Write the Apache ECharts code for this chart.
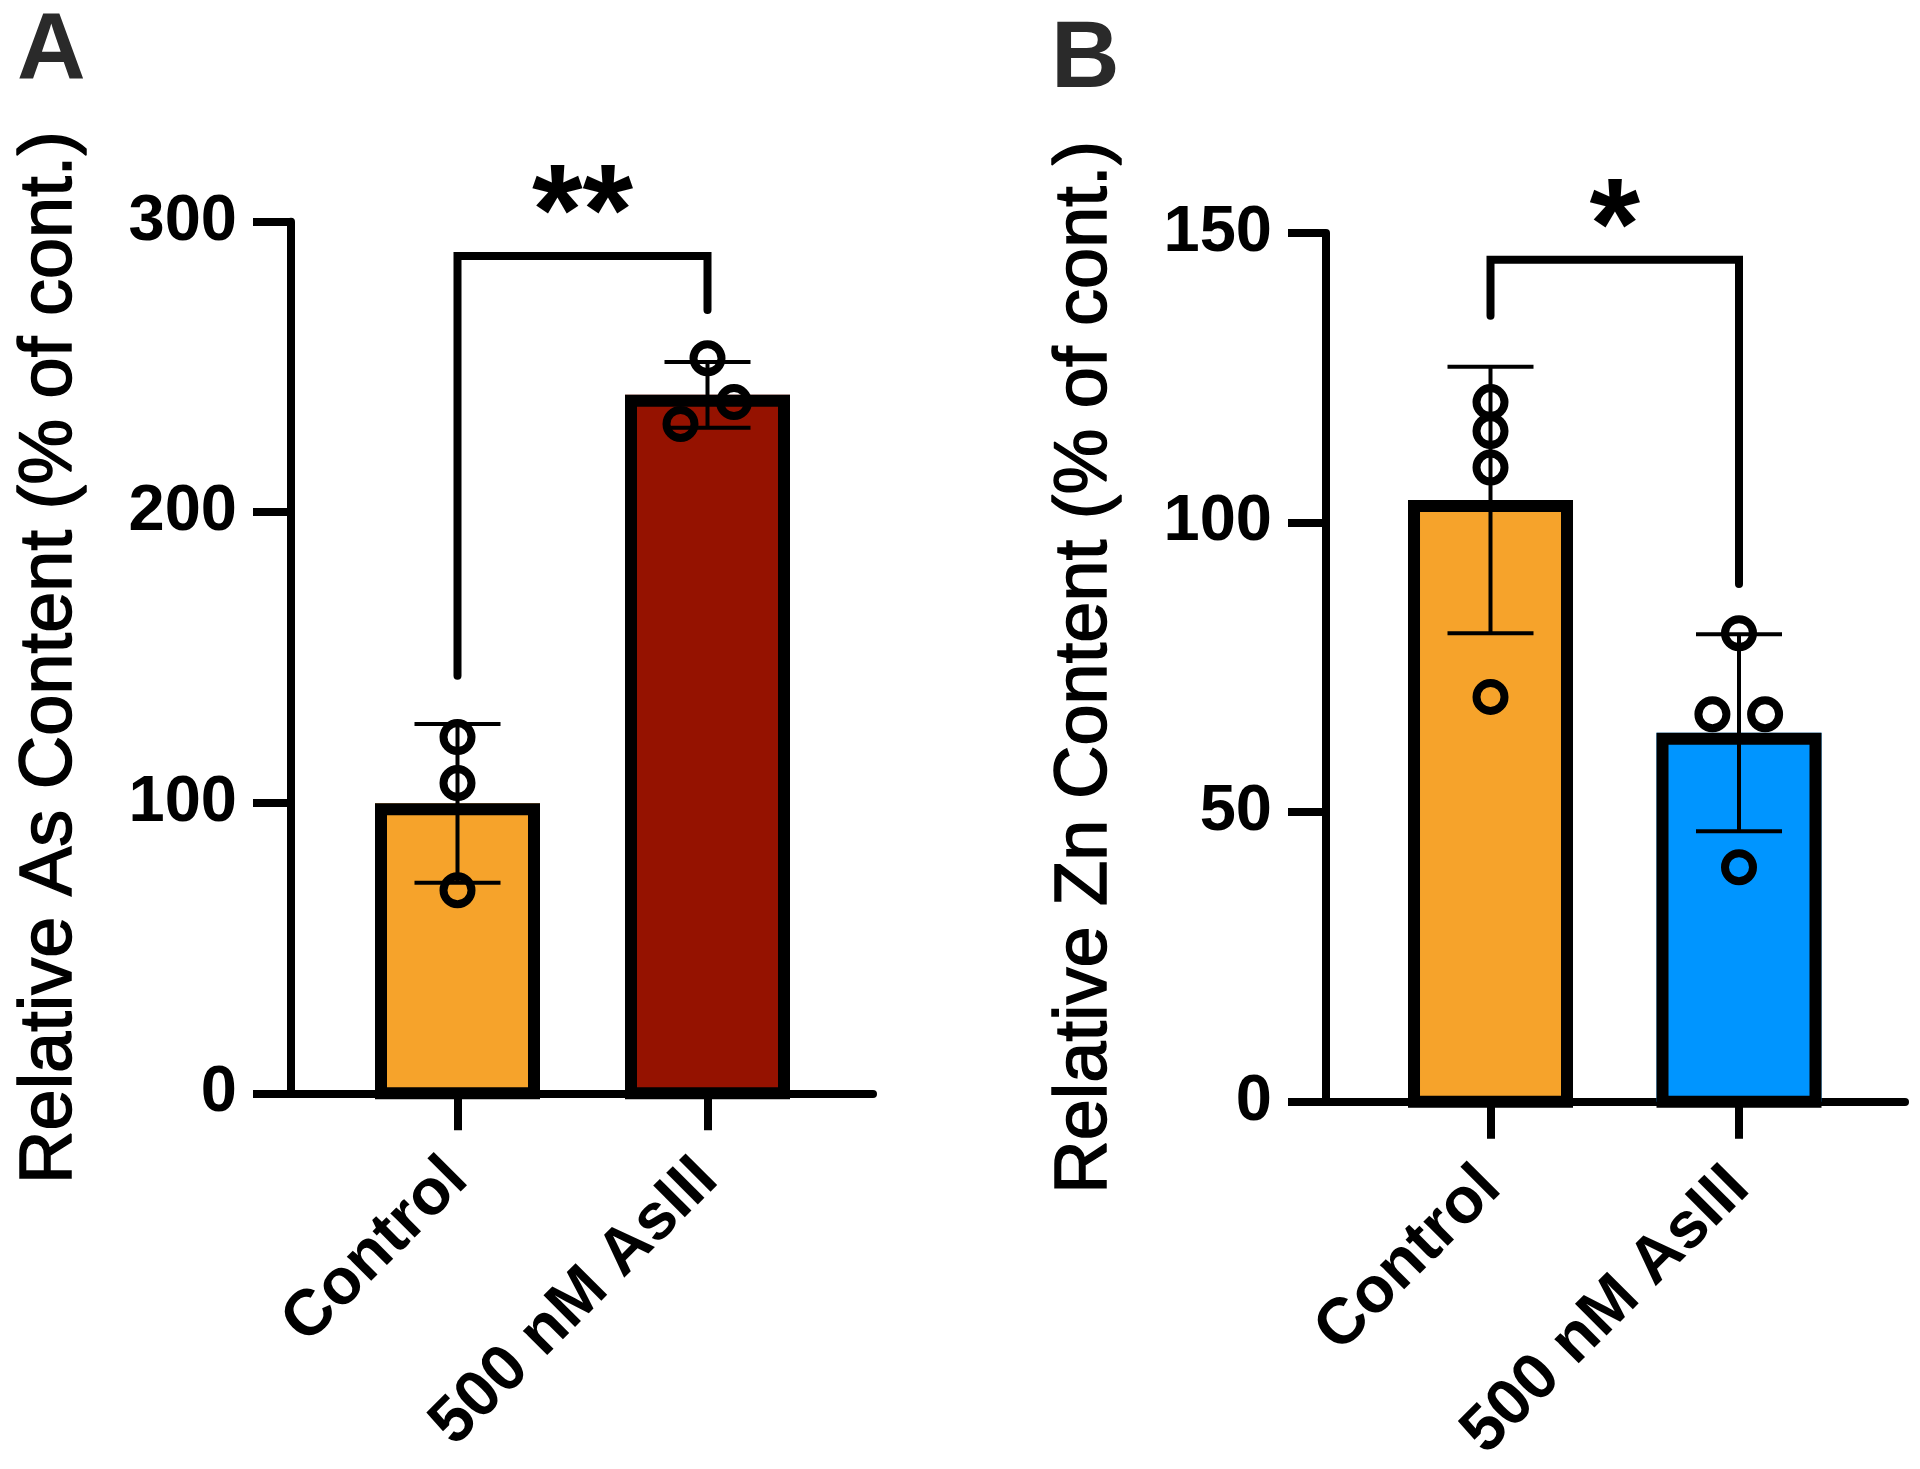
<!DOCTYPE html>
<html><head><meta charset="utf-8">
<script src="https://cdn.jsdelivr.net/npm/echarts@6/dist/echarts.min.js"></script>
<style>html,body{margin:0;padding:0;background:#fff}#chart{width:1920px;height:1469px}</style>
</head><body><div id="chart"></div>
<script>
// ---------- data ----------
const categories = ['Control', '500 nM AsIII'];
const asMean = [99.8, 240.4];
const asSD = [27.3, 11.3];
const asControlPoints = [122.6, 106.8, 69.9];
const asTreatedPoints = [253.0, 237.9, 230.4];
const znMean = [103.9, 63.7];
const znSD = [23.0, 17.0];
const znControlPoints = [120.8, 115.8, 109.5, 69.9];
const znTreatedPoints = [80.9, 66.9, 66.9, 40.5];
const asTicks = [0, 100, 200, 300];
const znTicks = [0, 50, 100, 150];
const asBracket = [143.7, 288.2, 269.6];   // left end, bar, right end
const znBracket = [135.7, 145.4, 89.4];
const asSig = '**';
const znSig = '*';
const asSigY = 301;
const znSigY = 150;
const panelLetters = ['A', 'B'];
const yTitles = ['Relative As Content (% of cont.)', 'Relative Zn Content (% of cont.)'];

// ---------- layout / style ----------
const asControlJitter = [0, 0, 0];
const asTreatedJitter = [0, 0.106, -0.108];
const znControlJitter = [0, 0, 0, 0];
const znTreatedJitter = [0, -0.107, 0.105, 0];
const asColors = ['#F6A32B', '#951200'];
const znColors = ['#F6A32B', '#0095FF'];
const FONT = '"Liberation Sans", Arial, sans-serif';
const BAR_W = 165, BORDER = 12;

const chart = echarts.init(document.getElementById('chart'));

function barSeries(idx, means, colors) {
  return {
    type: 'custom', xAxisIndex: idx, yAxisIndex: idx, z: 2,
    data: means.map((m, i) => [i + 1, m]),
    renderItem: (params, api) => {
      const p = api.coord([api.value(0), api.value(1)]);
      const p0 = api.coord([api.value(0), 0]);
      const h = p0[1] - p[1];
      return { type: 'group', children: [
        { type: 'rect', shape: { x: p[0] - BAR_W / 2, y: p[1], width: BAR_W, height: h },
          style: { fill: colors[params.dataIndex] } },
        { type: 'rect', shape: { x: p[0] - BAR_W / 2 + BORDER / 2, y: p[1] + BORDER / 2,
            width: BAR_W - BORDER, height: h - BORDER / 2 },
          style: { fill: 'none', stroke: '#000', lineWidth: BORDER } }
      ] };
    }
  };
}
function errSeries(idx, means, sds) {
  return {
    type: 'custom', xAxisIndex: idx, yAxisIndex: idx, z: 3,
    data: means.map((m, i) => [i + 1, m, sds[i]]),
    renderItem: (params, api) => {
      const x = api.value(0), m = api.value(1), s = api.value(2);
      const hi = api.coord([x, m + s]), lo = api.coord([x, m - s]);
      const cw = 43;
      const st = { stroke: '#000', lineWidth: 4 };
      return { type: 'group', children: [
        { type: 'line', shape: { x1: hi[0], y1: hi[1], x2: lo[0], y2: lo[1] }, style: st },
        { type: 'line', shape: { x1: hi[0] - cw, y1: hi[1], x2: hi[0] + cw, y2: hi[1] }, style: st },
        { type: 'line', shape: { x1: lo[0] - cw, y1: lo[1], x2: lo[0] + cw, y2: lo[1] }, style: st }
      ] };
    }
  };
}
function pointSeries(idx, pts, jit, cat) {
  return {
    type: 'scatter', xAxisIndex: idx, yAxisIndex: idx, z: 4,
    data: pts.map((v, i) => [cat + jit[i], v]),
    symbol: 'circle', symbolSize: 28,
    itemStyle: { color: 'rgba(0,0,0,0)', borderColor: '#000', borderWidth: 8, opacity: 1 },
    emphasis: { disabled: true }, silent: true
  };
}
function bracketSeries(idx, br) {
  return {
    type: 'line', xAxisIndex: idx, yAxisIndex: idx, z: 5,
    data: [[1, br[0]], [1, br[1]], [2, br[1]], [2, br[2]]],
    symbol: 'none', clip: false, silent: true,
    lineStyle: { color: '#000', width: 8, cap: 'round', join: 'miter' }
  };
}
function sigSeries(idx, txt, yv) {
  return {
    type: 'custom', xAxisIndex: idx, yAxisIndex: idx, z: 5, clip: false,
    data: [[1.5, yv]],
    renderItem: (params, api) => {
      const p = api.coord([api.value(0), api.value(1)]);
      return { type: 'text', x: p[0], y: p[1],
        style: { text: txt, font: 'bold 130px ' + FONT, fill: '#000', align: 'center', verticalAlign: 'middle' } };
    }
  };
}
function xAxisOpt(idx, min, max) {
  return {
    type: 'value', gridIndex: idx, min: min, max: max,
    axisLine: { show: true, onZero: false, lineStyle: { color: '#000', width: 8 } },
    axisTick: { show: true, customValues: [1, 2], length: 37, lineStyle: { color: '#000', width: 8 } },
    axisLabel: { show: true, customValues: [1, 2], rotate: 45, margin: 76, padding: [26, 0, 0, 0],
      formatter: v => categories[Math.round(v) - 1],
      fontFamily: FONT, fontWeight: 'bold', fontSize: 65, color: '#000' },
    splitLine: { show: false }
  };
}
function yAxisOpt(idx, ticks, title, gap) {
  return {
    type: 'value', gridIndex: idx, min: ticks[0], max: ticks[ticks.length - 1],
    interval: ticks[1] - ticks[0],
    name: title, nameLocation: 'middle', nameRotate: 90, nameGap: gap,
    nameTextStyle: { fontFamily: FONT, fontSize: 74, color: '#000', textBorderColor: '#000', textBorderWidth: 1.5 },
    axisLine: { show: true, lineStyle: { color: '#000', width: 8 } },
    axisTick: { show: true, length: 38, lineStyle: { color: '#000', width: 8 } },
    axisLabel: { margin: 54, fontFamily: FONT, fontWeight: 'bold', fontSize: 65, color: '#000' },
    splitLine: { show: false }
  };
}

chart.setOption({
  animation: false,
  backgroundColor: '#fff',
  title: [
    { text: panelLetters[0], left: 12, top: 0, textStyle: { fontFamily: FONT, fontWeight: 'bold', fontSize: 95, color: '#2A2A2A' } },
    { text: panelLetters[1], left: 1046, top: 8, textStyle: { fontFamily: FONT, fontWeight: 'bold', fontSize: 95, color: '#2A2A2A' } }
  ],
  grid: [
    { left: 291, top: 221.7, width: 582, height: 871.6, containLabel: false, outerBoundsMode: 'none' },
    { left: 1326, top: 233, width: 579, height: 868.7, containLabel: false, outerBoundsMode: 'none' }
  ],
  xAxis: [xAxisOpt(0, 0.334, 2.662), xAxisOpt(1, 0.338, 2.668)],
  yAxis: [yAxisOpt(0, asTicks, yTitles[0], 203), yAxisOpt(1, znTicks, yTitles[1], 203)],
  series: [
    barSeries(0, asMean, asColors),
    errSeries(0, asMean, asSD),
    pointSeries(0, asControlPoints, asControlJitter, 1),
    pointSeries(0, asTreatedPoints, asTreatedJitter, 2),
    bracketSeries(0, asBracket),
    sigSeries(0, asSig, asSigY),
    barSeries(1, znMean, znColors),
    errSeries(1, znMean, znSD),
    pointSeries(1, znControlPoints, znControlJitter, 1),
    pointSeries(1, znTreatedPoints, znTreatedJitter, 2),
    bracketSeries(1, znBracket),
    sigSeries(1, znSig, znSigY)
  ]
});
</script></body></html>
